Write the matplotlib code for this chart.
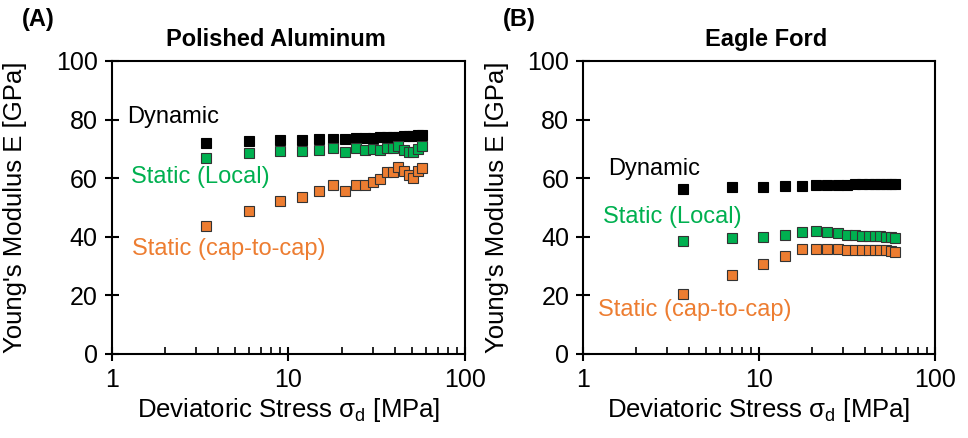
import matplotlib
matplotlib.use("Agg")
import matplotlib.pyplot as plt
from matplotlib.ticker import LogLocator, NullFormatter, FixedLocator

plt.rcParams['font.family'] = ['Liberation Sans', 'DejaVu Sans']

# Polished aluminum
al_stress = [3.4, 6, 9, 12, 15, 18, 21, 24, 27, 30, 33, 36, 39, 42, 45, 48, 51, 54, 57]
al_dynamic = [72.1, 72.8, 73.0, 73.1, 73.2, 73.4, 73.5, 73.6, 73.7, 73.8,
              73.9, 74.0, 74.1, 74.2, 74.3, 74.4, 74.5, 74.6, 74.7]
al_local = [67.0, 68.5, 69.3, 69.4, 69.6, 70.2, 69.1, 70.2, 69.6, 69.9,
            69.6, 70.2, 70.2, 71.1, 69.6, 68.8, 69.0, 69.9, 71.0]
al_cap = [43.7, 48.9, 52.3, 53.7, 55.6, 57.7, 55.7, 57.7, 57.7, 58.6,
          59.6, 62.2, 62.2, 63.9, 62.6, 61.1, 60.0, 62.6, 63.6]

# Eagle Ford
ef_stress = [3.7, 7, 10.5, 14, 17.5, 21, 24.5, 28, 31.5, 35, 38.5, 42, 45.5, 49, 52.5, 56, 59.5]
ef_dynamic = [56.3, 56.9, 57.1, 57.3, 57.4, 57.6, 57.7, 57.8, 57.8, 57.9,
              57.9, 58.0, 58.0, 58.0, 58.1, 58.1, 58.1]
ef_local = [38.6, 39.7, 40.0, 40.6, 41.6, 42.0, 41.7, 41.4, 40.7, 40.5,
            40.4, 40.3, 40.2, 40.2, 40.0, 40.0, 39.7]
ef_cap = [20.5, 27.0, 30.7, 33.4, 35.7, 35.9, 35.9, 35.7, 35.6, 35.5,
          35.5, 35.5, 35.4, 35.4, 35.4, 35.3, 34.9]

black = "#000000"
green = "#00B050"
orange = "#ED7D31"

fig = plt.figure(figsize=(9.68, 4.38), dpi=100)
ax1 = fig.add_axes([0.1154, 0.1918, 0.365, 0.669])
ax2 = fig.add_axes([0.6023, 0.1918, 0.3636, 0.669])

panels = [
    (ax1, al_stress, al_dynamic, al_local, al_cap, "Polished Aluminum", 0.465, -0.274,
     [(0.043, 0.809), (0.055, 0.605), (0.057, 0.357)]),
    (ax2, ef_stress, ef_dynamic, ef_local, ef_cap, "Eagle Ford", 0.52, -0.244,
     [(0.072, 0.63), (0.056, 0.468), (0.043, 0.150)]),
]

for ax, s, dyn, loc, cap, title, tx, ylx, pos in panels:
    for vals, col in [(dyn, black), (loc, green), (cap, orange)]:
        ax.plot(s, vals, ls="none", marker="s", ms=6.8, mfc=col,
                mec="#333333" if col != black else black, mew=0.8)
    ax.set_xscale("log")
    ax.set_xlim(1, 100)
    ax.set_ylim(0, 100)
    ax.yaxis.set_major_locator(FixedLocator([0, 20, 40, 60, 80, 100]))
    ax.xaxis.set_major_locator(FixedLocator([1, 10, 100]))
    ax.xaxis.set_major_formatter(plt.FuncFormatter(lambda v, p: "%g" % v))
    ax.xaxis.set_minor_locator(LogLocator(base=10, subs=range(2, 10)))
    ax.xaxis.set_minor_formatter(NullFormatter())
    for sp in ax.spines.values():
        sp.set_linewidth(1.5)
    ax.tick_params(axis="both", which="major", direction="inout", length=10,
                   width=1.5, labelsize=18, pad=5)
    ax.tick_params(axis="x", which="minor", direction="in", length=5, width=1.2)
    ax.set_xlabel("Deviatoric Stress σ$_\\mathregular{d}$ [MPa]", fontsize=18.5, va="center")
    ax.xaxis.set_label_coords(0.5, -0.19)
    ax.set_ylabel("Young's Modulus E [GPa]", fontsize=18.5, va="center")
    ax.yaxis.set_label_coords(ylx, 0.5)
    ax.text(tx, 1.072, title, fontsize=17, fontweight="bold", ha="center",
            va="center", transform=ax.transAxes)
    ax.text(pos[0][0], pos[0][1], "Dynamic", color=black, fontsize=17,
            transform=ax.transAxes, va="center")
    ax.text(pos[1][0], pos[1][1], "Static (Local)", color=green, fontsize=17,
            transform=ax.transAxes, va="center")
    ax.text(pos[2][0], pos[2][1], "Static (cap-to-cap)", color=orange, fontsize=17,
            transform=ax.transAxes, va="center")

fig.text(0.023, 0.955, "(A)", fontsize=17, fontweight="bold", va="center")
fig.text(0.519, 0.955, "(B)", fontsize=17, fontweight="bold", va="center")

fig.savefig("out.png", dpi=100)
